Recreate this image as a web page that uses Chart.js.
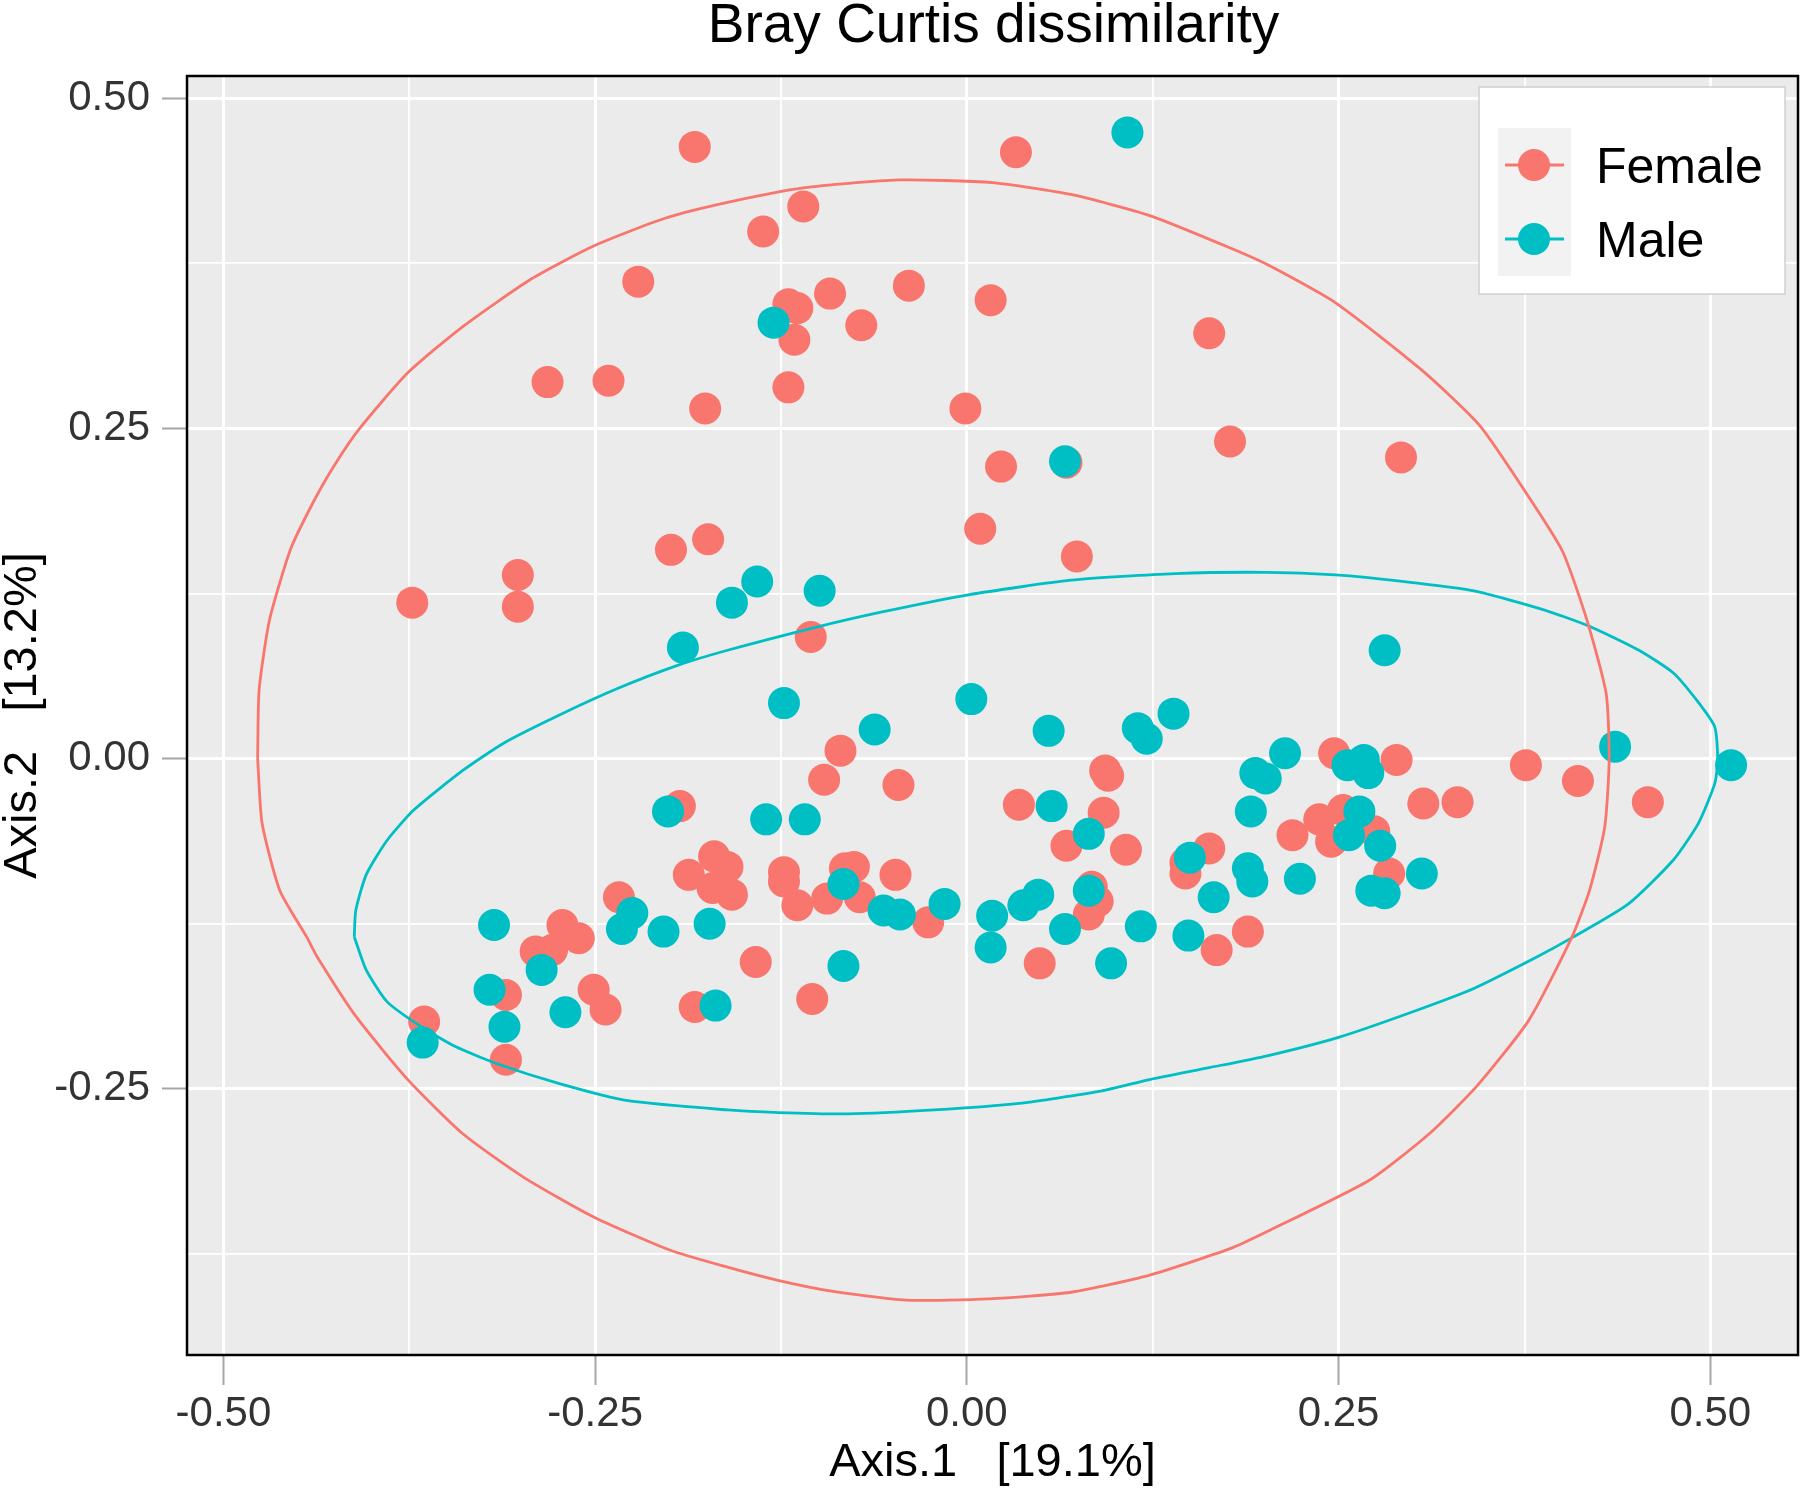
<!DOCTYPE html>
<html>
<head>
<meta charset="utf-8">
<script src="https://cdn.jsdelivr.net/npm/chart.js@4.4.0/dist/chart.umd.min.js"></script>
<style>
  body { margin: 0; background: #fff; }
  canvas { display: block; }
</style>
</head>
<body>
<canvas id="pcoa" width="1800" height="1493"></canvas>
<script>
// groups (legend order)
const groups = ['Female', 'Male'];

// Female samples
const femaleX = [-0.183, 0.033, -0.110, -0.137, -0.221, -0.039, -0.092, -0.120, -0.114, -0.116, -0.071, 0.016, -0.120, -0.001, 0.163, 0.023, 0.067, 0.177, 0.292, -0.282, -0.241, -0.176, -0.373, -0.302, -0.302, -0.199, -0.174, 0.009, 0.074, -0.105,
  -0.085, -0.096, -0.046, 0.093, 0.095, 0.035, 0.092, 0.067, 0.107, 0.163, 0.147, 0.147, 0.289, 0.247, 0.376, 0.411, 0.458, 0.307, 0.330, 0.219, 0.237, 0.253, 0.245, 0.274, 0.284, 0.189, 0.168, 0.049,
  -0.193, -0.170, -0.161, -0.187, -0.171, -0.158, -0.123, -0.123, -0.114, -0.082, -0.076, -0.094, -0.072, -0.048, -0.026, 0.084, 0.082, 0.088,
  -0.234, -0.272, -0.261, -0.290, -0.279, -0.251, -0.243, -0.183, -0.142, -0.104, -0.310, -0.310, -0.365];
const femaleY = [0.463, 0.459, 0.418, 0.399, 0.361, 0.358, 0.352, 0.344, 0.341, 0.317, 0.328, 0.347, 0.281, 0.265, 0.322, 0.221, 0.224, 0.240, 0.228, 0.285, 0.286, 0.265, 0.118, 0.139, 0.115, 0.158, 0.166, 0.174, 0.153, 0.092,
  0.006, -0.016, -0.020, -0.009, -0.013, -0.035, -0.041, -0.066, -0.069, -0.068, -0.079, -0.087, -0.001, 0.004, -0.005, -0.017, -0.033, -0.034, -0.033, -0.058, -0.046, -0.039, -0.063, -0.055, -0.087, -0.131, -0.145, -0.155,
  -0.036, -0.074, -0.082, -0.088, -0.098, -0.103, -0.086, -0.093, -0.111, -0.083, -0.082, -0.106, -0.105, -0.088, -0.124, -0.097, -0.118, -0.108,
  -0.105, -0.126, -0.136, -0.146, -0.145, -0.175, -0.190, -0.188, -0.154, -0.182, -0.179, -0.228, -0.199];

// Male samples
const maleX = [0.108, -0.130, 0.066, -0.158, -0.141, -0.099, -0.191, -0.123, 0.003, -0.062, 0.055, 0.115, 0.121, 0.139, 0.281, 0.436, 0.514, 0.214, 0.256, 0.267, 0.270, 0.194, 0.201, 0.191, 0.264, 0.257, 0.278, 0.306, 0.224, 0.272, 0.281, 0.189, 0.192, 0.166, 0.150, 0.149, 0.117, 0.097, 0.066, 0.082, 0.057, 0.082, 0.048, 0.038, 0.017, 0.016, -0.015, -0.056, -0.045, -0.083, -0.135, -0.109, -0.201, -0.173, -0.225, -0.232, -0.204, -0.083, -0.169, -0.270, -0.286, -0.318, -0.321, -0.311, -0.366];
const maleY = [0.474, 0.330, 0.225, 0.118, 0.134, 0.127, 0.084, 0.042, 0.045, 0.022, 0.021, 0.023, 0.015, 0.034, 0.082, 0.009, -0.005, 0.004, -0.005, -0.001, -0.011, -0.011, -0.015, -0.040, -0.040, -0.058, -0.066, -0.087, -0.091, -0.100, -0.102, -0.083, -0.093, -0.105, -0.075, -0.134, -0.127, -0.155, -0.129, -0.057, -0.036, -0.100, -0.103, -0.111, -0.119, -0.143, -0.110, -0.115, -0.118, -0.095, -0.046, -0.046, -0.040, -0.125, -0.117, -0.129, -0.131, -0.157, -0.187, -0.192, -0.160, -0.126, -0.175, -0.203, -0.215];

// ellipse outlines (closed)
const femaleEllX = [-0.477, -0.476, -0.469, -0.455, -0.441, -0.427, -0.409, -0.376, -0.339, -0.293, -0.251, -0.203, -0.161, -0.110, -0.046, 0.017, 0.070, 0.123, 0.174, 0.202, 0.248, 0.306, 0.345, 0.382, 0.401, 0.417, 0.430, 0.432, 0.429, 0.419, 0.407, 0.378, 0.343, 0.311, 0.271, 0.202, 0.177, 0.123, 0.070, 0.015, -0.041, -0.092, -0.127, -0.161, -0.200, -0.251, -0.298, -0.339, -0.376, -0.411, -0.437, -0.444, -0.462, -0.474, -0.477];
const femaleEllY = [0.000, 0.052, 0.105, 0.158, 0.191, 0.219, 0.249, 0.292, 0.327, 0.363, 0.388, 0.409, 0.421, 0.432, 0.438, 0.436, 0.427, 0.411, 0.388, 0.374, 0.345, 0.294, 0.252, 0.191, 0.156, 0.105, 0.049, -0.001, -0.052, -0.099, -0.135, -0.198, -0.248, -0.284, -0.319, -0.358, -0.371, -0.391, -0.404, -0.409, -0.410, -0.403, -0.395, -0.385, -0.372, -0.347, -0.317, -0.284, -0.243, -0.195, -0.150, -0.135, -0.100, -0.049, 0.000];
const maleEllX = [-0.412, -0.411, -0.404, -0.390, -0.372, -0.339, -0.311, -0.274, -0.235, -0.196, -0.161, -0.103, -0.057, 0.001, 0.070, 0.140, 0.202, 0.248, 0.294, 0.341, 0.387, 0.419, 0.452, 0.475, 0.491, 0.503, 0.505, 0.503, 0.492, 0.475, 0.445, 0.408, 0.382, 0.341, 0.299, 0.250, 0.202, 0.163, 0.123, 0.089, 0.035, -0.022, -0.080, -0.127, -0.161, -0.228, -0.274, -0.316, -0.344, -0.367, -0.390, -0.404, -0.412];
const maleEllY = [-0.135, -0.115, -0.088, -0.062, -0.039, -0.009, 0.012, 0.033, 0.053, 0.070, 0.082, 0.099, 0.111, 0.124, 0.135, 0.140, 0.141, 0.139, 0.134, 0.127, 0.113, 0.100, 0.082, 0.065, 0.044, 0.024, -0.001, -0.019, -0.049, -0.077, -0.110, -0.135, -0.151, -0.174, -0.192, -0.211, -0.225, -0.234, -0.243, -0.252, -0.261, -0.266, -0.269, -0.268, -0.266, -0.259, -0.246, -0.231, -0.218, -0.203, -0.184, -0.160, -0.135];

const COLORS = { Female: '#F8766D', Male: '#00BFC4' };
const FONT = '"Liberation Sans", Arial, Helvetica, sans-serif';
Chart.defaults.font.family = FONT;

function zip(xs, ys) { return xs.map((x, i) => ({ x: x, y: ys[i] })); }
function isMajor(v) { return Math.abs(v / 0.25 - Math.round(v / 0.25)) < 1e-6; }

const panelPlugin = {
  id: 'panel',
  beforeDraw(chart) {
    const { ctx, chartArea: a } = chart;
    ctx.save();
    ctx.fillStyle = '#fff';
    ctx.fillRect(0, 0, chart.width, chart.height);
    ctx.fillStyle = '#EBEBEB';
    ctx.fillRect(a.left, a.top, a.right - a.left, a.bottom - a.top);
    ctx.restore();
  },
  afterDatasetsDraw(chart) {
    const { ctx, chartArea: a } = chart;
    ctx.save();
    ctx.strokeStyle = '#000';
    ctx.lineWidth = 2.5;
    ctx.strokeRect(a.left, a.top, a.right - a.left, a.bottom - a.top);
    ctx.restore();
  },
  afterDraw(chart) {
    const { ctx, chartArea: a } = chart;
    ctx.save();
    // title
    ctx.fillStyle = '#000';
    ctx.font = '55px ' + FONT;
    ctx.textAlign = 'center';
    ctx.textBaseline = 'alphabetic';
    ctx.fillText('Bray Curtis dissimilarity', (a.left + a.right) / 2 + 1, 42);

    // legend
    ctx.fillStyle = '#fff';
    ctx.fillRect(1479, 87, 306, 207);
    ctx.strokeStyle = '#D0D0D0';
    ctx.lineWidth = 1.5;
    ctx.strokeRect(1479, 87, 306, 207);
    ctx.fillStyle = '#F2F2F2';
    ctx.fillRect(1498, 128, 73, 148);
    groups.forEach((g, i) => {
      const cy = 165 + i * 74;
      ctx.strokeStyle = COLORS[g];
      ctx.lineWidth = 3;
      ctx.beginPath();
      ctx.moveTo(1505, cy); ctx.lineTo(1564, cy);
      ctx.stroke();
      ctx.fillStyle = COLORS[g];
      ctx.beginPath();
      ctx.arc(1534, cy, 16, 0, Math.PI * 2);
      ctx.fill();
      ctx.fillStyle = '#000';
      ctx.font = '50px ' + FONT;
      ctx.textAlign = 'left';
      ctx.fillText(g, 1596, cy + 18);
    });
    ctx.restore();
  }
};

const gridOpts = (tickLen) => ({
  color: '#FFFFFF',
  lineWidth: ctx => (ctx.tick && isMajor(ctx.tick.value)) ? 3 : 1.8,
  tickLength: tickLen,
  tickWidth: 2,
  tickColor: ctx => (ctx.tick && isMajor(ctx.tick.value)) ? '#A6A6A6' : 'rgba(0,0,0,0)'
});

const tickOpts = (pad) => ({
  stepSize: 0.125,
  includeBounds: false,
  padding: pad,
  maxRotation: 0,
  autoSkip: false,
  color: '#333333',
  font: { size: 42 },
  callback: v => isMajor(v) ? v.toFixed(2) : ''
});

new Chart(document.getElementById('pcoa'), {
  type: 'scatter',
  data: {
    datasets: [
      { label: 'Female ellipse', data: zip(femaleEllX, femaleEllY), showLine: true, borderColor: COLORS.Female, borderWidth: 2.8, pointRadius: 0, fill: false, tension: 0.2 },
      { label: 'Male ellipse', data: zip(maleEllX, maleEllY), showLine: true, borderColor: COLORS.Male, borderWidth: 2.8, pointRadius: 0, fill: false, tension: 0.2 },
      { label: 'Male', data: zip(maleX, maleY), backgroundColor: COLORS.Male, pointRadius: 16, pointBorderWidth: 0 },
      { label: 'Female', data: zip(femaleX, femaleY), backgroundColor: COLORS.Female, pointRadius: 16, pointBorderWidth: 0 }
    ]
  },
  options: {
    responsive: false,
    animation: false,
    devicePixelRatio: 1,
    layout: { autoPadding: false, padding: { top: 76, right: 2, left: 0, bottom: 0 } },
    plugins: { legend: { display: false }, tooltip: { enabled: false }, title: { display: false } },
    scales: {
      x: {
        type: 'linear', position: 'bottom',
        min: -0.5245, max: 0.559,
        afterFit: s => { s.height = 138; s.paddingLeft = 0; s.paddingRight = 0; },
        ticks: tickOpts(4),
        grid: gridOpts(30),
        border: { display: false },
        title: { display: true, text: 'Axis.1   [19.1%]', color: '#000', font: { size: 47 }, padding: { top: 0, bottom: 2 } }
      },
      y: {
        type: 'linear', position: 'left',
        min: -0.4515, max: 0.5167,
        afterFit: s => { s.width = 187; s.paddingTop = 0; s.paddingBottom = 0; },
        ticks: tickOpts(12),
        grid: gridOpts(25),
        border: { display: false },
        title: { display: true, text: 'Axis.2   [13.2%]', color: '#000', font: { size: 47, lineHeight: 1 }, padding: 0 }
      }
    }
  },
  plugins: [panelPlugin]
});
</script>
</body>
</html>
